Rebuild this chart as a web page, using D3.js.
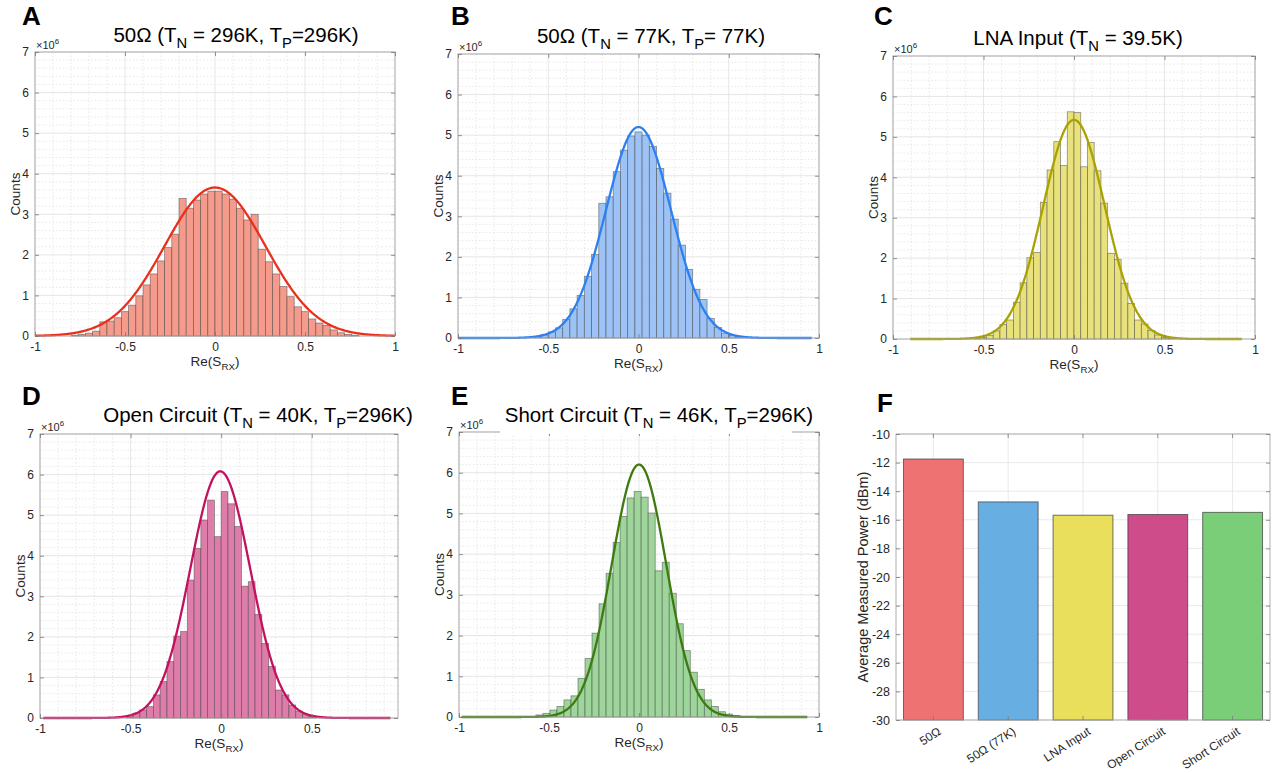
<!DOCTYPE html>
<html><head><meta charset="utf-8">
<script src="https://cdn.jsdelivr.net/npm/d3@7"></script>
<style>
body{margin:0;background:#fff}
svg{display:block}
text{font-family:"Liberation Sans",Arial,Helvetica,sans-serif;fill:#262626}
</style></head>
<body><svg id="chart" width="1273" height="773"></svg>
<script>
// ---------------- DATA ----------------
const panelLetters = ["A", "B", "C", "D", "E", "F"];
// histogram bins (counts in units of 1e6)
const binStart = [-0.80, -0.58, -0.558, -0.5236, -0.573];
const binWidth = [0.04, 0.04, 0.0372, 0.0374, 0.039];
const countsA = [0.02,0.04,0.07,0.12,0.35,0.37,0.45,0.60,0.76,0.99,1.26,1.53,1.85,2.18,2.51,3.39,3.15,3.35,3.50,3.57,
                 3.57,3.50,3.37,3.15,2.86,3.00,2.14,1.83,1.53,1.22,0.97,0.72,0.60,0.42,0.32,0.26,0.15,0.08,0.04,0.02];
const countsB = [0.04,0.08,0.15,0.25,0.46,0.72,1.05,1.52,2.06,3.32,3.48,4.10,4.63,4.98,5.08,
                 5.00,4.72,4.18,3.57,2.93,2.29,1.69,1.20,0.95,0.48,0.26,0.12,0.06,0.03];
const countsC = [0.02,0.04,0.09,0.20,0.36,0.47,0.91,1.39,2.01,2.14,3.38,4.18,4.88,4.29,5.62,
                 5.60,4.26,4.86,4.16,3.36,2.12,1.97,1.38,0.88,0.47,0.37,0.21,0.10,0.04,0.02];
const countsD = [0.06,0.12,0.20,0.28,0.57,0.90,1.39,2.02,2.13,3.40,4.18,4.88,5.37,4.47,
                 5.58,5.28,4.72,3.25,3.36,2.55,1.84,1.27,0.69,0.57,0.32,0.17,0.09,0.04];
const countsE = [0.05,0.09,0.17,0.26,0.42,0.52,0.95,1.44,2.06,2.78,3.53,4.29,4.93,5.38,
                 5.54,5.40,5.01,3.59,3.80,3.04,2.29,1.63,1.10,0.68,0.42,0.26,0.13,0.07,0.04];
// Gaussian fit parameters for each histogram
const fitPeak  = [3.66, 5.20, 5.42, 6.08, 6.20];
const fitMean  = [0, 0, 0, -0.005, 0];
const fitSigma = [0.28, 0.18, 0.17, 0.165, 0.151];
const fitFrom  = [-1, -1, -0.905, -0.982, -0.985];
const fitTo    = [1, 0.962, 0.93, 0.934, 0.937];
// axes
const xTicks = [-1, -0.5, 0, 0.5, 1];
const yTicks = [0, 1, 2, 3, 4, 5, 6, 7];
const xDomainMax = [1, 1, 1, 0.976, 1];
// titles: [text, isSubscript]
const titleA = [["50Ω (T",0],["N",1],[" = 296K, T",0],["P",1],["=296K)",0]];
const titleB = [["50Ω (T",0],["N",1],[" = 77K, T",0],["P",1],["= 77K)",0]];
const titleC = [["LNA Input (T",0],["N",1],[" = 39.5K)",0]];
const titleD = [["Open Circuit (T",0],["N",1],[" = 40K, T",0],["P",1],["=296K)",0]];
const titleE = [["Short Circuit (T",0],["N",1],[" = 46K, T",0],["P",1],["=296K)",0]];
// panel F
const powerCategories = ["50Ω", "50Ω (77K)", "LNA Input", "Open Circuit", "Short Circuit"];
const powerValues = [-11.75, -14.75, -15.68, -15.63, -15.48];
const powerTicks = [-30, -28, -26, -24, -22, -20, -18, -16, -14, -12, -10];

// ---------------- STYLE / LAYOUT ----------------
const histFill  = ["#F59B8C", "#9DC3F6", "#E9E27C", "#DE7DA9", "#9DD59A"];
const histCurve = ["#E8301C", "#2D80F2", "#A9A200", "#C2125F", "#3F7A10"];
const powerFill = ["#EF7272", "#67AFE3", "#E9DF5B", "#CF4C8A", "#7ACE78"];
const layouts = [
  {x0:35,  x1:395,  y0:52,  y1:336, lx:22,  ly:25,  tx:236, ty:42},
  {x0:458, x1:819,  y0:54,  y1:338, lx:451, ly:25,  tx:651, ty:43},
  {x0:893, x1:1255, y0:56,  y1:339, lx:874, ly:25,  tx:1078,ty:45},
  {x0:40,  x1:398,  y0:434, y1:718, lx:22,  ly:405, tx:258, ty:422},
  {x0:459, x1:819,  y0:432, y1:717, lx:451, ly:405, tx:659, ty:422}
];
const layoutF = {x0:896, x1:1270, y0:434, y1:720, lx:877, ly:412};

const histCounts = [countsA, countsB, countsC, countsD, countsE];
const titles = [titleA, titleB, titleC, titleD, titleE];

const svg = d3.select("#chart");
const FONT = '"Liberation Sans",Arial,Helvetica,sans-serif';

function richText(g, x, y, parts, size, anchor) {
  const t = g.append("text").attr("x", x).attr("y", y)
    .attr("text-anchor", anchor || "middle").style("font-size", size + "px").style("fill", "#000");
  let shifted = false;
  parts.forEach(([s, sub]) => {
    const ts = t.append("tspan").text(s);
    if (sub) { ts.style("font-size", (size * 0.72) + "px").attr("dy", size * 0.3); shifted = true; }
    else if (shifted) { ts.attr("dy", -size * 0.3); shifted = false; }
  });
  return t;
}

function styleAxis(g, fs) {
  g.select(".domain").remove();
  g.selectAll(".tick line").attr("stroke", "#777").attr("stroke-width", 0.8);
  g.selectAll(".tick text").style("font-size", (fs || 12) + "px").style("fill", "#262626").style("font-family", FONT);
}

function drawHist(i) {
  const L = layouts[i];
  const g = svg.append("g");
  const x = d3.scaleLinear().domain([-1, xDomainMax[i]]).range([L.x0, L.x1]);
  const y = d3.scaleLinear().domain([0, 7]).range([L.y1, L.y0]);
  const xt = xTicks.filter(v => v <= xDomainMax[i] + 1e-9);

  // minor grid
  const minorX = d3.range(-10, 11).map(v => v / 10).filter(v => v <= xDomainMax[i] && Math.abs(v * 2 - Math.round(v * 2)) > 1e-6);
  const minorY = d3.range(0, 36).map(v => v / 5).filter(v => Math.abs(v - Math.round(v)) > 1e-6);
  g.append("g").selectAll("line").data(minorX).join("line")
    .attr("x1", d => x(d)).attr("x2", d => x(d)).attr("y1", L.y0).attr("y2", L.y1)
    .attr("stroke", "#e2e2e2").attr("stroke-dasharray", "1.5,2").attr("stroke-width", 0.8);
  g.append("g").selectAll("line").data(minorY).join("line")
    .attr("y1", d => y(d)).attr("y2", d => y(d)).attr("x1", L.x0).attr("x2", L.x1)
    .attr("stroke", "#e2e2e2").attr("stroke-dasharray", "1.5,2").attr("stroke-width", 0.8);
  // major grid
  g.append("g").selectAll("line").data(xt).join("line")
    .attr("x1", d => x(d)).attr("x2", d => x(d)).attr("y1", L.y0).attr("y2", L.y1)
    .attr("stroke", "#e0e0e0").attr("stroke-width", 0.8);
  g.append("g").selectAll("line").data(yTicks).join("line")
    .attr("y1", d => y(d)).attr("y2", d => y(d)).attr("x1", L.x0).attr("x2", L.x1)
    .attr("stroke", "#e0e0e0").attr("stroke-width", 0.8);

  // bars
  const bins = histCounts[i].map((c, k) => ({x0: binStart[i] + k * binWidth[i], x1: binStart[i] + (k + 1) * binWidth[i], c}));
  g.append("g").selectAll("rect").data(bins).join("rect")
    .attr("x", d => x(d.x0)).attr("width", d => x(d.x1) - x(d.x0))
    .attr("y", d => y(d.c)).attr("height", d => y(0) - y(d.c))
    .attr("fill", histFill[i]).attr("stroke", "#3a3a3a").attr("stroke-opacity", 0.55).attr("stroke-width", 0.8);

  // fitted curve
  const pts = d3.range(fitFrom[i], fitTo[i] + 1e-9, 0.004)
    .map(v => [v, fitPeak[i] * Math.exp(-((v - fitMean[i]) ** 2) / (2 * fitSigma[i] ** 2))]);
  g.append("path").datum(pts).attr("fill", "none").attr("stroke", histCurve[i]).attr("stroke-width", 2.3)
    .attr("stroke-linejoin", "round")
    .attr("d", d3.line().x(d => x(d[0])).y(d => y(d[1])));

  // frame
  g.append("rect").attr("x", L.x0).attr("y", L.y0).attr("width", L.x1 - L.x0).attr("height", L.y1 - L.y0)
    .attr("fill", "none").attr("stroke", "#a6a6a6").attr("stroke-width", 0.9);

  // axes
  const ax = g.append("g").attr("transform", `translate(0,${L.y1})`)
    .call(d3.axisBottom(x).tickValues(xt).tickFormat(d => String(d)).tickSizeInner(-4).tickSizeOuter(0).tickPadding(6));
  styleAxis(ax);
  const axT = g.append("g").attr("transform", `translate(0,${L.y0})`)
    .call(d3.axisTop(x).tickValues(xt).tickFormat("").tickSizeInner(-4).tickSizeOuter(0));
  styleAxis(axT);
  const ay = g.append("g").attr("transform", `translate(${L.x0},0)`)
    .call(d3.axisLeft(y).tickValues(yTicks).tickFormat(d => String(d)).tickSizeInner(-4).tickSizeOuter(0).tickPadding(6));
  styleAxis(ay);
  const ayR = g.append("g").attr("transform", `translate(${L.x1},0)`)
    .call(d3.axisRight(y).tickValues(yTicks).tickFormat("").tickSizeInner(-4).tickSizeOuter(0));
  styleAxis(ayR);

  // exponent label
  const ex = g.append("text").attr("x", L.x0 + 1).attr("y", L.y0 - 3).style("font-size", "11px").style("fill", "#262626");
  ex.append("tspan").text("×10");
  ex.append("tspan").text("6").style("font-size", "8px").attr("dy", -5);

  // axis labels
  g.append("text").attr("transform", `translate(${L.x0 - 15},${(L.y0 + L.y1) / 2}) rotate(-90)`)
    .attr("text-anchor", "middle").style("font-size", "13.5px").text("Counts");
  richText(g, (L.x0 + L.x1) / 2, L.y1 + 30, [["Re(S",0],["RX",1],[")",0]], 13.5, "middle").style("fill", "#262626");

  // title (white box for E like the original)
  if (i === 4) {
    g.append("rect").attr("x", 500).attr("y", 404).attr("width", 292).attr("height", 30).attr("fill", "#fff");
  }
  richText(g, L.tx, L.ty, titles[i], 20.5, "middle");

  // letter
  g.append("text").attr("x", L.lx).attr("y", L.ly).style("font-size", "26px").style("font-weight", "bold")
    .style("fill", "#000").text(panelLetters[i]);
}

for (let i = 0; i < 5; i++) drawHist(i);

// ---------------- PANEL F ----------------
(function () {
  const L = layoutF;
  const g = svg.append("g");
  const x = d3.scaleBand().domain(powerCategories).range([L.x0, L.x1]).paddingInner(0.2).paddingOuter(0.1);
  const y = d3.scaleLinear().domain([-30, -10]).range([L.y1, L.y0]);
  g.append("g").selectAll("line").data(powerTicks).join("line")
    .attr("y1", d => y(d)).attr("y2", d => y(d)).attr("x1", L.x0).attr("x2", L.x1)
    .attr("stroke", "#e6e6e6").attr("stroke-width", 0.9);
  g.append("g").selectAll("line").data(powerCategories).join("line")
    .attr("x1", d => x(d) + x.bandwidth() / 2).attr("x2", d => x(d) + x.bandwidth() / 2)
    .attr("y1", L.y0).attr("y2", L.y1).attr("stroke", "#e6e6e6").attr("stroke-width", 0.9);
  g.append("g").selectAll("rect").data(powerCategories).join("rect")
    .attr("x", d => x(d)).attr("width", x.bandwidth())
    .attr("y", (d, k) => y(powerValues[k])).attr("height", (d, k) => y(-30) - y(powerValues[k]))
    .attr("fill", (d, k) => powerFill[k]).attr("stroke", "#3a3a3a").attr("stroke-opacity", 0.7).attr("stroke-width", 1);
  g.append("rect").attr("x", L.x0).attr("y", L.y0).attr("width", L.x1 - L.x0).attr("height", L.y1 - L.y0)
    .attr("fill", "none").attr("stroke", "#a6a6a6").attr("stroke-width", 0.9);
  const ay = g.append("g").attr("transform", `translate(${L.x0},0)`)
    .call(d3.axisLeft(y).tickValues(powerTicks).tickFormat(d => String(d)).tickSizeInner(-4).tickSizeOuter(0).tickPadding(6));
  styleAxis(ay, 12.5);
  const ayR = g.append("g").attr("transform", `translate(${L.x1},0)`)
    .call(d3.axisRight(y).tickValues(powerTicks).tickFormat("").tickSizeInner(-4).tickSizeOuter(0));
  styleAxis(ayR);
  const axT = g.append("g").attr("transform", `translate(0,${L.y0})`)
    .call(d3.axisTop(x).tickFormat("").tickSizeInner(-4).tickSizeOuter(0));
  styleAxis(axT);
  const ax = g.append("g").attr("transform", `translate(0,${L.y1})`)
    .call(d3.axisBottom(x).tickSizeInner(-4).tickSizeOuter(0));
  styleAxis(ax, 12);
  ax.selectAll(".tick text").attr("x", 0).attr("y", 0).attr("dy", "0.35em")
    .attr("transform", "translate(6,10) rotate(-33)").style("text-anchor", "end");
  g.append("text").attr("transform", `translate(${L.x0 - 28},${(L.y0 + L.y1) / 2}) rotate(-90)`)
    .attr("text-anchor", "middle").style("font-size", "14.5px").text("Average Measured Power (dBm)");
  g.append("text").attr("x", L.lx).attr("y", L.ly).style("font-size", "26px").style("font-weight", "bold")
    .style("fill", "#000").text(panelLetters[5]);
})();
</script></body></html>
